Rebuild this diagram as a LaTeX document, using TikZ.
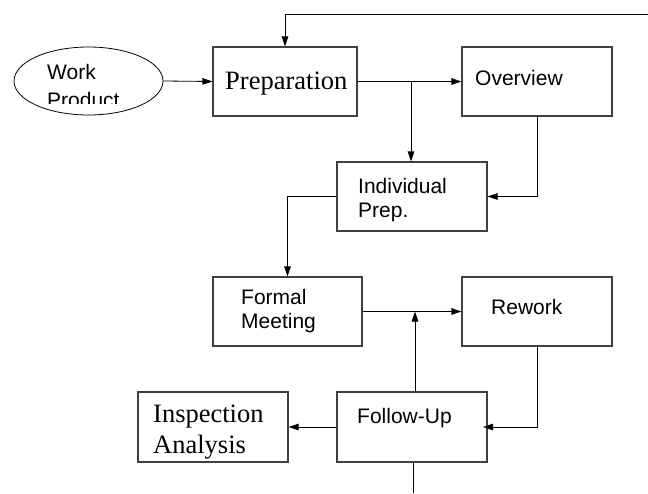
\documentclass[tikz,border=0pt]{standalone}
\usepackage{fontspec}
\setmainfont{Liberation Serif}
\setsansfont{Liberation Sans}
\usetikzlibrary{arrows.meta,shapes.geometric}
\tikzset{
  boxnode/.style={draw=black!75, line width=1.1pt, rectangle, inner sep=0pt},
  conn/.style={draw=black, line width=0.8pt},
  arr/.style={conn, -{Triangle[length=10pt,width=6.5pt]}},
  sanslbl/.style={font=\fontsize{21}{24}\sffamily, inner sep=0pt, anchor=base west},
  seriflbl/.style={font=\fontsize{26.5}{30}\rmfamily, inner sep=0pt, anchor=base west},
}
\begin{document}
\begin{tikzpicture}[x=1pt,y=-1pt]
\useasboundingbox (0,0) rectangle (648,493);
% boxes
\node[boxnode, minimum width=144pt, minimum height=69pt] (prep) at (285,81.5) {};
\node[boxnode, minimum width=150pt, minimum height=69pt] (over) at (537,81.5) {};
\node[boxnode, minimum width=150pt, minimum height=69pt] (indiv) at (412,196.5) {};
\node[boxnode, minimum width=149pt, minimum height=69pt] (formal) at (287.5,311.5) {};
\node[boxnode, minimum width=150pt, minimum height=69pt] (rework) at (537,311.5) {};
\node[boxnode, minimum width=150pt, minimum height=70pt] (fu) at (412,427) {};
\node[boxnode, minimum width=150pt, minimum height=70pt] (insp) at (213,427) {};
\node[draw=black, line width=0.8pt, ellipse, minimum width=149pt, minimum height=68pt, inner sep=0pt] (wp) at (88.5,81) {};
% labels
\node[seriflbl] (tprep) at (225,89) {Preparation};
\node[sanslbl] (tover) at (475,85) {Overview};
\node[sanslbl] (tind1) at (358,193) {Individual};
\node[sanslbl] (tind2) at (358,217) {Prep.};
\node[sanslbl] (tfor1) at (241,304) {Formal};
\node[sanslbl] (tfor2) at (241,328) {Meeting};
\node[sanslbl] (trew) at (491,314) {Rework};
\node[sanslbl] (tfu) at (357,423) {Follow-Up};
\node[seriflbl] (tins1) at (153,422) {Inspection};
\node[seriflbl] (tins2) at (153,453) {Analysis};
\node[sanslbl] (twork) at (47,79) {Work};
\begin{scope}
\clip (30,85) rectangle (150,103);
\node[sanslbl] (tprod) at (47,107) {Product};
\end{scope}
% helper coordinates
\coordinate (topright) at (648,14);
\coordinate (branch) at (411,81.5);
\coordinate (merge) at (415,311.5);
\coordinate (bottomend) at (413,493);
\coordinate (futip) at (483,427);
% connectors
\draw[arr] (topright) -| (prep.north);
\draw[arr] (wp.east) -- (prep.west);
\draw[arr] (prep.east) -- (over.west);
\draw[arr] (branch) -- (branch |- indiv.north);
\draw[arr] (over.south) |- (indiv.east);
\draw[arr] (indiv.west) -| (formal.north);
\draw[arr] (formal.east) -- (rework.west);
\draw[arr] (fu.north -| merge) -- (merge);
\draw[arr] (rework.south) |- (futip);
\draw[arr] (fu.west) -- (insp.east);
\draw[conn] (fu.south -| bottomend) -- (bottomend);
\end{tikzpicture}
\end{document}
